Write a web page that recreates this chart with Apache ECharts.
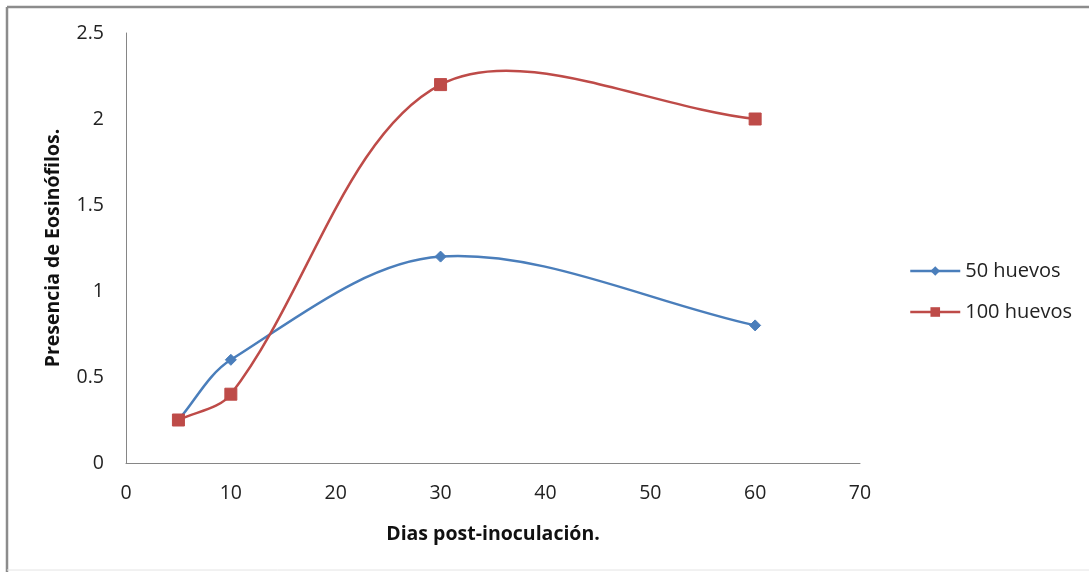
<!DOCTYPE html>
<html>
<head>
<meta charset="utf-8">
<script src="https://cdn.jsdelivr.net/npm/echarts@6/dist/echarts.min.js"></script>
<style>
  html, body { margin: 0; padding: 0; background: #fff; }
  #chart { width: 1089px; height: 572px; }
</style>
</head>
<body>
<div id="chart"></div>
<script>
// Days after inoculation and eosinophil presence per dose
const days = [5, 10, 30, 60];
const huevos50 = [0.25, 0.6, 1.2, 0.8];
const huevos100 = [0.25, 0.4, 2.2, 2.0];
const seriesNames = ['50 huevos', '100 huevos'];
const xAxisTitle = 'Dias post-inoculación.';
const yAxisTitle = 'Presencia de Eosinófilos.';

const BLUE = '#4A7EBB';
const RED = '#BE4B48';
const FONT = '"Open Sans", "Noto Sans", sans-serif';

function dist(a, b) {
  return Math.hypot(b[0] - a[0], b[1] - a[1]);
}

// Smoothed curve: one cubic Bezier per segment, tangents weighted by segment length
function smoothCurve(name, ys, color) {
  const pts = days.map((d, i) => [d, ys[i]]);
  const segs = [];
  for (let i = 0; i < pts.length - 1; i++) segs.push([pts[i][0], pts[i][1], i]);
  return {
    name: name,
    type: 'custom',
    silent: true,
    z: 2,
    data: segs,
    renderItem: function (params, api) {
      const i = api.value(2);
      const c = pts.map(p => api.coord(p));
      const p0 = c[Math.max(i - 1, 0)];
      const p1 = c[i];
      const p2 = c[i + 1];
      const p3 = c[Math.min(i + 2, c.length - 1)];
      const d01 = dist(p0, p1), d12 = dist(p1, p2), d23 = dist(p2, p3);
      const k1 = d12 / (d01 + d12) / 3;
      const k2 = d12 / (d12 + d23) / 3;
      const cp1 = [p1[0] + (p2[0] - p0[0]) * k1, p1[1] + (p2[1] - p0[1]) * k1];
      const cp2 = [p2[0] - (p3[0] - p1[0]) * k2, p2[1] - (p3[1] - p1[1]) * k2];
      return {
        type: 'bezierCurve',
        shape: {
          x1: p1[0], y1: p1[1],
          cpx1: cp1[0], cpy1: cp1[1],
          cpx2: cp2[0], cpy2: cp2[1],
          x2: p2[0], y2: p2[1]
        },
        style: { stroke: color, lineWidth: 2.5, fill: null }
      };
    }
  };
}

function markers(name, ys, color, symbol, size) {
  return {
    name: name,
    type: 'line',
    z: 3,
    data: days.map((d, i) => [d, ys[i]]),
    symbol: symbol,
    symbolSize: size,
    showAllSymbol: true,
    itemStyle: { color: color, borderColor: color },
    lineStyle: { color: color, width: 2.5, opacity: 0 },
    emphasis: { disabled: true },
    animation: false
  };
}

const chart = echarts.init(document.getElementById('chart'), null, { renderer: 'canvas' });
chart.setOption({
  animation: false,
  backgroundColor: '#ffffff',
  graphic: [
    { type: 'line', shape: { x1: 7, y1: 7, x2: 1089, y2: 7 }, style: { stroke: '#8c8c8c', lineWidth: 2.5 } },
    { type: 'line', shape: { x1: 7, y1: 7, x2: 7, y2: 572 }, style: { stroke: '#8c8c8c', lineWidth: 2.5 } },
    { type: 'line', shape: { x1: 7, y1: 570, x2: 1089, y2: 570 }, style: { stroke: '#e4e4e4', lineWidth: 1 } }
  ],
  grid: { left: 126, right: 229, top: 33, bottom: 109, containLabel: false },
  legend: {
    orient: 'vertical',
    left: 904,
    top: 256,
    itemWidth: 50,
    itemHeight: 12,
    itemGap: 21,
    textStyle: { fontFamily: FONT, fontSize: 20, color: '#222' },
    data: [
      { name: seriesNames[0], lineStyle: { opacity: 1, width: 2.5, color: BLUE } },
      { name: seriesNames[1], lineStyle: { opacity: 1, width: 2.5, color: RED } }
    ]
  },
  xAxis: {
    type: 'value',
    min: 0, max: 70, interval: 10,
    name: xAxisTitle,
    nameLocation: 'middle',
    nameGap: 61,
    nameTextStyle: { fontFamily: FONT, fontSize: 19.5, fontWeight: 'bold', color: '#111' },
    axisLine: { show: true, lineStyle: { color: '#868686', width: 1 } },
    axisTick: { show: false },
    axisLabel: { margin: 20, fontFamily: FONT, fontSize: 19.5, color: '#222' },
    splitLine: { show: false }
  },
  yAxis: {
    type: 'value',
    min: 0, max: 2.5, interval: 0.5,
    name: yAxisTitle,
    nameLocation: 'middle',
    nameGap: 63,
    nameRotate: 90,
    nameTextStyle: { fontFamily: FONT, fontSize: 19.5, fontWeight: 'bold', color: '#111' },
    axisLine: { show: true, lineStyle: { color: '#868686', width: 1 } },
    axisTick: { show: false },
    axisLabel: { margin: 22, fontFamily: FONT, fontSize: 19.5, color: '#222' },
    splitLine: { show: false }
  },
  series: [
    markers(seriesNames[0], huevos50, BLUE, 'diamond', 11),
    markers(seriesNames[1], huevos100, RED, 'rect', 12),
    smoothCurve(seriesNames[0], huevos50, BLUE),
    smoothCurve(seriesNames[1], huevos100, RED)
  ]
});
</script>
</body>
</html>
